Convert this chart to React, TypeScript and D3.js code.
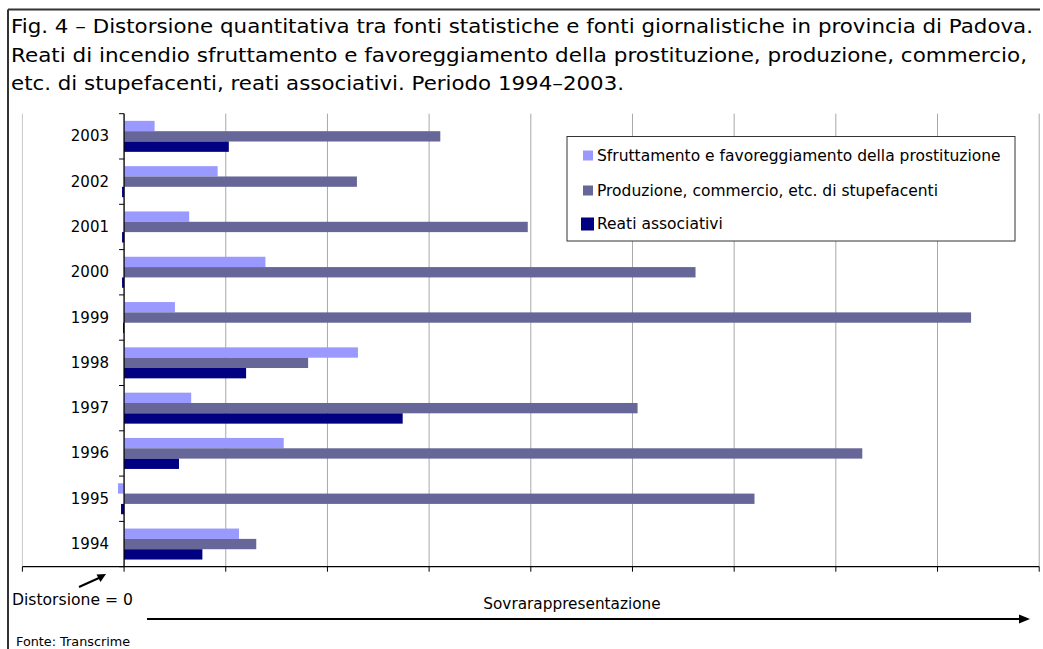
import React from "react";
import * as d3 from "d3";

const years = ["2003", "2002", "2001", "2000", "1999", "1998", "1997", "1996", "1995", "1994"];
const seriesNames = [
  "Sfruttamento e favoreggiamento della prostituzione",
  "Produzione, commercio, etc. di stupefacenti",
  "Reati associativi",
];
const seriesColors = ["#9999FF", "#666699", "#000080"];
const sfruttamento = [0.3, 0.92, 0.64, 1.39, 0.5, 2.3, 0.66, 1.57, -0.06, 1.13];
const stupefacenti = [3.11, 2.29, 3.97, 5.62, 8.33, 1.81, 5.05, 7.26, 6.2, 1.3];
const associativi = [1.03, -0.02, -0.02, -0.02, -0.01, 1.2, 2.74, 0.54, -0.03, 0.77];
const xTicks = [-1, 0, 1, 2, 3, 4, 5, 6, 7, 8, 9];
const titleLines = [
  "Fig. 4 – Distorsione quantitativa tra fonti statistiche e fonti giornalistiche in provincia di Padova.",
  "Reati di incendio sfruttamento e favoreggiamento della prostituzione, produzione, commercio,",
  "etc. di stupefacenti, reati associativi. Periodo 1994–2003.",
];
const titleWidths = [1022, 1016, 613];

const FONT = "'DejaVu Sans', Verdana, sans-serif";

export default function App() {
  const W = 1043, H = 649;
  const left = 22.4, right = 1039.2, top = 113.7, bottom = 566.7;
  const x = d3.scaleLinear().domain([-1, 9]).range([left, right]);
  const y = d3.scaleBand().domain(years).range([top, bottom]).paddingInner(0.316).paddingOuter(0.158);
  const inner = d3.scaleBand().domain(["0", "1", "2"]).range([0, y.bandwidth()]);
  const allSeries = [sfruttamento, stupefacenti, associativi];
  const bandStep = (bottom - top) / years.length;
  const boundaries = d3.range(years.length + 1).map((i) => top + i * bandStep);

  return (
    <svg width={W} height={H} style={{ position: "absolute", left: 0, top: 0, background: "#fff" }} fontFamily={FONT}>
      <rect x={0} y={0} width={W} height={H} fill="#fff" />
      {/* frame */}
      <line x1={8} y1={9.5} x2={1040} y2={9.5} stroke="#333" strokeWidth={2} />
      <line x1={8} y1={9.5} x2={8} y2={H} stroke="#333" strokeWidth={2} />
      {/* title */}
      {titleLines.map((t, i) => (
        <text key={i} x={11} y={33 + i * 28.5} fontSize={19.5} fill="#000" textLength={titleWidths[i]} lengthAdjust="spacingAndGlyphs">
          {t}
        </text>
      ))}
      {/* gridlines */}
      {xTicks.map((t) => (
        <line key={"g" + t} x1={x(t)} x2={x(t)} y1={top} y2={bottom} stroke={t === -1 ? "#c8c8c8" : "#a8a8a8"} strokeWidth={1} />
      ))}
      {/* bars */}
      {years.map((yr, i) => (
        <g key={yr}>
          {allSeries.map((s, j) => {
            const v = s[i];
            const x0 = x(Math.min(0, v));
            const x1 = x(Math.max(0, v));
            return (
              <rect
                key={j}
                x={x0}
                y={(y(yr) as number) + (inner(String(j)) as number)}
                width={Math.max(x1 - x0, 0.5)}
                height={inner.bandwidth()}
                fill={seriesColors[j]}
              />
            );
          })}
        </g>
      ))}
      {/* y axis */}
      <line x1={x(0)} x2={x(0)} y1={top} y2={bottom} stroke="#000" strokeWidth={1.2} />
      {boundaries.map((b, i) => (
        <line key={"yt" + i} x1={x(0) - 5} x2={x(0)} y1={b} y2={b} stroke="#000" strokeWidth={1} />
      ))}
      {years.map((yr) => (
        <text key={"yl" + yr} x={109} y={(y(yr) as number) + y.bandwidth() / 2} fontSize={15} textAnchor="end" dominantBaseline="central" fill="#000">
          {yr}
        </text>
      ))}
      {/* x axis */}
      <line x1={left} x2={right} y1={bottom} y2={bottom} stroke="#000" strokeWidth={1.2} />
      {xTicks.map((t) => (
        <line key={"xt" + t} x1={x(t)} x2={x(t)} y1={bottom} y2={bottom + 5} stroke="#000" strokeWidth={1} />
      ))}
      {/* legend */}
      <rect x={567} y={136.5} width={448} height={104.5} fill="#fff" stroke="#333" strokeWidth={1} />
      {seriesNames.map((n, i) => {
        const cy = [155.5, 190.5, 224][i];
        const sz = i === 2 ? 13 : 10;
        const sx = i === 2 ? 581 : 583;
        return (
          <g key={"lg" + i}>
            <rect x={sx} y={cy - sz / 2} width={sz} height={sz} fill={seriesColors[i]} />
            <text x={597} y={cy} fontSize={15.5} dominantBaseline="central" fill="#000">
              {n}
            </text>
          </g>
        );
      })}
      {/* annotations */}
      <text x={12} y={605} fontSize={15.6} fill="#000">Distorsione = 0</text>
      <line x1={79} y1={587} x2={100} y2={577.5} stroke="#000" strokeWidth={2} />
      <polygon points="106,574 96.5,574.5 100.5,582" fill="#000" />
      <text x={572} y={609} fontSize={15.3} textAnchor="middle" fill="#000">Sovrarappresentazione</text>
      <line x1={147} y1={619} x2={1020} y2={619} stroke="#000" strokeWidth={2} />
      <polygon points="1019,614.5 1030,619 1019,623.5" fill="#000" />
      <text x={16} y={646} fontSize={12.8} fill="#000">Fonte: Transcrime</text>
    </svg>
  );
}
